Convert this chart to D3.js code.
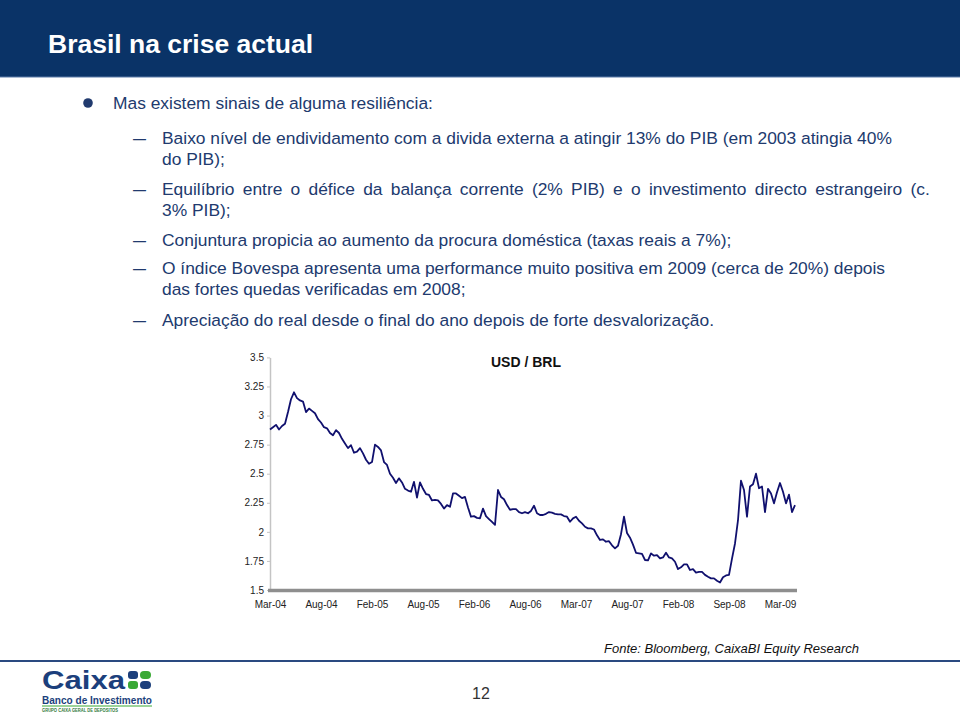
<!DOCTYPE html>
<html>
<head>
<meta charset="utf-8">
<script src="https://cdn.jsdelivr.net/npm/d3@7"></script>
<style>
  html, body { margin: 0; padding: 0; background: #fff; }
  svg { display: block; font-family: "Liberation Sans", Arial, Helvetica, sans-serif; }
</style>
</head>
<body>
<script>
// ---------- DATA ----------
const slideTitle = "Brasil na crise actual";
const mainBullet = "Mas existem sinais de alguma resiliência:";
const subBullets = [
  ["Baixo nível de endividamento com a divida externa a atingir 13% do PIB (em 2003 atingia 40%", "do PIB);"],
  ["Equilíbrio entre o défice da balança corrente (2% PIB) e o investimento directo estrangeiro (c.", "3% PIB);"],
  ["Conjuntura propicia ao aumento da procura doméstica (taxas reais a 7%);"],
  ["O índice Bovespa apresenta uma performance muito positiva em 2009 (cerca de 20%) depois", "das fortes quedas verificadas em 2008;"],
  ["Apreciação do real desde o final do ano depois de forte desvalorização."]
];
const chartTitle = "USD / BRL";
const xTickLabels = ["Mar-04","Aug-04","Feb-05","Aug-05","Feb-06","Aug-06","Mar-07","Aug-07","Feb-08","Sep-08","Mar-09"];
const xTickIndex  = [0, 17, 34, 51, 68, 85, 102, 119, 136, 153, 170];
const yTicks = [1.5, 1.75, 2, 2.25, 2.5, 2.75, 3, 3.25, 3.5];
const yTickLabels = ["1.5","1.75","2","2.25","2.5","2.75","3","3.25","3.5"];
// USD/BRL, sampled at regular intervals (Mar-04 .. Apr-09)
const usdBrl = [
  2.88, 2.90, 2.92, 2.88, 2.91, 2.93, 3.03, 3.14, 3.20, 3.15,
  3.13, 3.12, 3.03, 3.06, 3.04, 3.02, 2.97, 2.94, 2.90, 2.89,
  2.85, 2.83, 2.875, 2.85, 2.80, 2.76, 2.72, 2.745, 2.68, 2.69,
  2.72, 2.675, 2.62, 2.585, 2.60, 2.75, 2.73, 2.70, 2.60, 2.575,
  2.50, 2.465, 2.42, 2.46, 2.425, 2.37, 2.355, 2.345, 2.43, 2.295,
  2.425, 2.37, 2.325, 2.317, 2.27, 2.274, 2.27, 2.24, 2.20, 2.23,
  2.216, 2.33, 2.33, 2.31, 2.29, 2.30, 2.21, 2.13, 2.135, 2.12,
  2.116, 2.20, 2.135, 2.11, 2.085, 2.06, 2.36, 2.30, 2.28, 2.23,
  2.19, 2.195, 2.195, 2.17, 2.16, 2.17, 2.16, 2.18, 2.225, 2.16,
  2.145, 2.145, 2.155, 2.17, 2.165, 2.155, 2.15, 2.15, 2.136, 2.13,
  2.087, 2.116, 2.13, 2.095, 2.073, 2.044, 2.03, 2.03, 2.02, 1.97,
  1.93, 1.935, 1.915, 1.92, 1.884, 1.858, 1.88, 1.98, 2.13, 1.99,
  1.95, 1.89, 1.82, 1.815, 1.81, 1.758, 1.755, 1.815, 1.795, 1.80,
  1.772, 1.78, 1.82, 1.78, 1.772, 1.743, 1.68, 1.695, 1.72, 1.72,
  1.672, 1.68, 1.65, 1.655, 1.655, 1.63, 1.614, 1.60, 1.60, 1.58,
  1.565, 1.61, 1.625, 1.63, 1.77, 1.90, 2.10, 2.44, 2.36, 2.13,
  2.39, 2.41, 2.50, 2.375, 2.39, 2.17, 2.37, 2.33, 2.245, 2.34,
  2.42, 2.345, 2.245, 2.32, 2.17, 2.23
];
const sourceNote = "Fonte: Bloomberg, CaixaBI Equity Research";
const pageNumber = "12";

// ---------- DRAW ----------
const W = 960, H = 715;
const svg = d3.select("body").append("svg").attr("width", W).attr("height", H);

// header band
svg.append("rect").attr("x", 0).attr("y", 0).attr("width", W).attr("height", 77).attr("fill", "#0a3367");
svg.append("line").attr("x1", 0).attr("x2", W).attr("y1", 77).attr("y2", 77).attr("stroke", "#5a7aa8").attr("stroke-width", 1);
svg.append("text").attr("x", 48).attr("y", 52.5).attr("fill", "#fff")
  .attr("font-size", 26.5).attr("font-weight", "bold").text(slideTitle);

// bullets
const textColor = "#213a6e";
const fs = 17.4;
svg.append("circle").attr("cx", 88).attr("cy", 103).attr("r", 4.8).attr("fill", textColor);
svg.append("text").attr("x", 113).attr("y", 109).attr("font-size", fs).attr("fill", textColor).text(mainBullet);

const itemTops = [144, 195, 246, 274, 326];
subBullets.forEach((lines, i) => {
  svg.append("text").attr("x", 133).attr("y", itemTops[i]).attr("font-size", fs).attr("fill", textColor)
    .attr("textLength", 13).attr("lengthAdjust", "spacingAndGlyphs").text("–");
  lines.forEach((ln, j) => {
    const t = svg.append("text").attr("x", 162).attr("y", itemTops[i] + j * 20.5)
      .attr("font-size", fs).attr("fill", textColor).text(ln);
    if (i === 1 && j === 0) t.style("word-spacing", "3.4px");
  });
});

// chart
const x = d3.scaleLinear().domain([0, usdBrl.length - 1]).range([270, 795]);
const y = d3.scaleLinear().domain([1.5, 3.5]).range([590, 357.4]);

// y axis
const yAxis = svg.append("g").attr("transform", "translate(270,0)")
  .call(d3.axisLeft(y).tickValues(yTicks).tickFormat((d, i) => yTickLabels[i]).tickSize(3).tickSizeOuter(0).tickPadding(3));
yAxis.select(".domain").attr("stroke", "#c4c4c4").attr("stroke-width", 1.5);
yAxis.selectAll(".tick line").attr("stroke", "#c4c4c4");
yAxis.selectAll("text").attr("font-size", 10).attr("fill", "#222").attr("font-family", "Liberation Sans, Arial, sans-serif");

// x axis
const xAxis = svg.append("g").attr("transform", "translate(0,590)")
  .call(d3.axisBottom(x).tickValues(xTickIndex).tickFormat((d, i) => xTickLabels[i]).tickSize(0).tickPadding(11));
xAxis.select(".domain").attr("stroke", "#8e8e8e").attr("stroke-width", 3.5)
  .attr("d", `M${x(0) - 2},0.5H${x(usdBrl.length - 1) + 2}`);
xAxis.selectAll("text").attr("font-size", 10).attr("fill", "#222").attr("font-family", "Liberation Sans, Arial, sans-serif");

// line
const line = d3.line().x((d, i) => x(i)).y(d => y(d));
svg.append("path").datum(usdBrl).attr("d", line)
  .attr("fill", "none").attr("stroke", "#10106e").attr("stroke-width", 1.8).attr("stroke-linejoin", "round");

svg.append("text").attr("x", 491).attr("y", 367).attr("font-size", 14).attr("font-weight", "bold").attr("fill", "#111").text(chartTitle);

// footer
svg.append("text").attr("x", 604).attr("y", 652.5).attr("font-size", 13).attr("font-style", "italic").attr("fill", "#111").text(sourceNote);
svg.append("line").attr("x1", 0).attr("x2", W).attr("y1", 661).attr("y2", 661).attr("stroke", "#2a4a80").attr("stroke-width", 2);
svg.append("text").attr("x", 481).attr("y", 699).attr("text-anchor", "middle").attr("font-size", 16).attr("fill", "#333").text(pageNumber);

// logo
const logo = svg.append("g");
logo.append("text").attr("x", 42).attr("y", 689).attr("font-size", 26).attr("font-weight", "bold")
  .attr("fill", "#1c3f7c").attr("textLength", 83).attr("lengthAdjust", "spacingAndGlyphs").text("Caixa");
logo.append("rect").attr("x", 128).attr("y", 671).attr("width", 10).attr("height", 8).attr("rx", 3).attr("fill", "#1c3f7c");
logo.append("rect").attr("x", 140).attr("y", 671).attr("width", 11).attr("height", 8).attr("rx", 4).attr("fill", "#3aa935");
logo.append("rect").attr("x", 128).attr("y", 681).attr("width", 10).attr("height", 8).attr("rx", 3).attr("fill", "#3aa935");
logo.append("rect").attr("x", 140).attr("y", 681).attr("width", 11).attr("height", 8).attr("rx", 4).attr("fill", "#1c3f7c");
logo.append("text").attr("x", 42).attr("y", 703.5).attr("font-size", 10).attr("font-weight", "bold")
  .attr("fill", "#1c3f7c").attr("textLength", 110).attr("lengthAdjust", "spacingAndGlyphs").text("Banco de Investimento");
logo.append("line").attr("x1", 42).attr("x2", 152).attr("y1", 706).attr("y2", 706).attr("stroke", "#3aa935").attr("stroke-width", 1);
logo.append("text").attr("x", 42).attr("y", 712).attr("font-size", 4.5).attr("font-weight", "bold")
  .attr("fill", "#2f7a3a").attr("textLength", 76).attr("lengthAdjust", "spacingAndGlyphs").text("GRUPO CAIXA GERAL DE DEPOSITOS");
</script>
</body>
</html>
